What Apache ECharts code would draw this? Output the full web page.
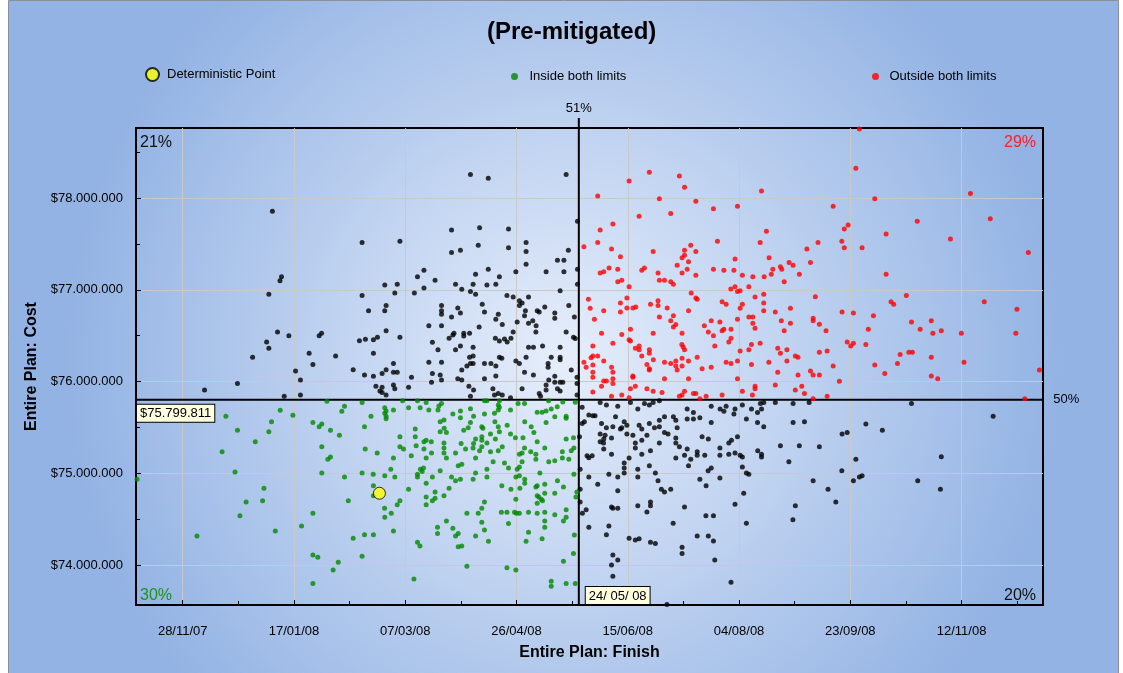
<!DOCTYPE html>
<html>
<head>
<meta charset="utf-8">
<title>(Pre-mitigated)</title>
<script src="https://cdn.jsdelivr.net/npm/echarts@6/dist/echarts.min.js"></script>
<style>
html, body { margin: 0; padding: 0; background: #fff; }
#chart { width: 1123px; height: 673px; }
</style>
</head>
<body>
<div id="chart"></div>
<script>
// x: days after 28/11/07, y: cost in thousands of $
const BASE_DATE = Date.UTC(2007, 10, 28)
const X_MIN = -21
const X_MAX = 386.6
const Y_MIN = 73564
const Y_MAX = 78763
const X_TICKS = [0, 50, 100, 150, 200, 250, 300, 350]
const X_MINOR_TICKS = [25, 75, 125, 175, 225, 275, 325, 375]
const Y_TICKS = [74000, 75000, 76000, 77000, 78000]
const Y_MINOR_TICKS = [74500, 75500, 76500, 77500, 78500]

// limits (24/05/08 and $75.799.811)
const FINISH_LIMIT = 178
const COST_LIMIT = 75799.811
const V_LINE_TOP = 78873
const H_LINE_END = 389.8

const CORNER_PCT = { topLeft: '21%', topRight: '29%', bottomLeft: '30%', bottomRight: '20%' }
const FINISH_PCT = '51%'
const COST_PCT = '50%'

const deterministicPoint = [[88.4, 74782]]

// outside one limit only (black)
const oneLimitPts = [
	[40.3,77856],[80.6,77514],[44.4,77143],[43.7,77099],
	[129.3,78255],[137.3,78215],[172.3,78255],[177.4,77747],[97.6,77529],[120.8,77652],[133.4,77677],[146.4,77663],
	[120.8,77405],[124.8,77431],[132.8,77485],[146.4,77459],[154.3,77514],[154.3,77416],[154.3,77278],[173.3,77431],
	[168.4,77322],[171.3,77322],[177.4,77224],[171.3,77197],[163.3,77197],[149.7,77197],[137.3,77224],[131.6,77169],
	[142.3,77143],[108.4,77213],[105.5,77143],[113.4,77104],[90.8,77052],[96.4,77060],[122.6,77060],[130.5,77060],
	[136.7,77052],[140.7,77060],[177.4,77060],
	[38.7,76951],[80.6,76936],[42.6,76540],[47.7,76500],[37.7,76431],[38.7,76362],[61.3,76500],[62.4,76526],
	[79.4,76445],[82.1,76461],[31.4,76264],[56.8,76308],[68.7,76279],[58.5,76184],[76.6,76129],[81.7,76072],
	[50.7,76115],[52.9,76017],[24.6,75977],[9.8,75908],[45.6,75839],[52.9,75854],
	[83.5,76772],[95.3,76965],[104.1,76965],[108.4,77020],[125.4,77006],[129.3,76980],[131.6,76951],[169.6,76990],
	[145.7,76936],[148.5,76922],[155.4,76922],[151.3,76881],[152.5,76856],[151.3,76827],[173.5,76827],[91.4,76827],
	[90.8,76772],[116.3,76827],[116.3,76772],[116.3,76733],[123.6,76802],[124.8,76747],[120.8,76704],[134.6,76842],
	[135.6,76758],[154.0,76772],[153.6,76718],[159.3,76772],[160.2,76758],[162.7,76813],[167.2,76747],[167.2,76690],
	[176.0,76704],[140.7,76679],[141.8,76733],[150.3,76649],[155.4,76635],[157.3,76663],[158.8,76609],[143.6,76620],
	[110.6,76609],[116.3,76609],[133.2,76595],[91.4,76554],[97.6,76482],[85.7,76456],[87.5,76482],[121.9,76526],
	[121.4,76508],[126.3,76526],[126.3,76497],[128.9,76526],[119.7,76472],[140.5,76472],[142.3,76442],[144.6,76464],
	[145.8,76431],[147.5,76472],[148.5,76540],[158.7,76540],[172.3,76540],[175.6,76482],[176.4,76470],[112.2,76428],
	[124.8,76388],[122.6,76347],[130.5,76373],[114.7,76347],[155.4,76373],[157.6,76373],[161.7,76388],[169.6,76373],
	[85.7,76308],[130.5,76279],[128.9,76264],[142.3,76264],[143.4,76254],[154.3,76264],[165.6,76264],[169.6,76264],
	[169.6,76238],[110.6,76210],[116.3,76210],[127.7,76170],[129.3,76195],[130.5,76195],[135.6,76195],[138.5,76195],
	[140.7,76170],[149.7,76224],[151.3,76195],[164.2,76195],[164.2,76155],[94.7,76195],[91.4,76129],[89.6,76086],
	[85.7,76057],[94.7,76101],[96.4,76101],[102.8,76046],[112.2,76086],[115.7,76072],[116.3,76017],[125.4,76126],
	[123.6,76031],[125.4,76017],[135.6,76031],[140.7,76061],[153.6,76101],[157.6,76072],[167.2,76057],[164.5,76017],
	[174.6,76126],[177.2,76046],[111.8,75992],[94.7,75962],[86.8,75948],[89.6,75937],[88.6,75897],[89.6,75879],
	[91.4,75854],[95.3,75922],[101.5,75937],[128.6,75948],[129.3,75839],[130.7,75908],[139.4,75922],[140.1,75854],
	[141.8,75868],[143.6,75854],[147.3,75824],[152.5,75922],[160.2,75868],[160.8,75839],[163.3,75908],[163.3,75962],
	[167.2,75992],[169.6,75992],[170.8,75992],[168.4,75922],[169.6,75897],[177.2,75977],[177.2,75854],
	[179.5,75719],[182.5,75636],[184.3,75628],[185.3,75628],[180.5,75562],[179.5,75541],[178.3,75399],
	[187.6,75770],[190.4,75744],[195.5,75730],[201.2,75770],[207.5,75759],[209.7,75744],[211.4,75770],[214.2,75790],
	[204.5,75701],[194.5,75617],[188.2,75541],[190.4,75497],[193.3,75508],[198.4,75562],[196.7,75483],[197.3,75497],
	[199.6,75523],[187.6,75428],[189.8,75414],[189.2,75374],[192.7,75385],[187.6,75344],[189.1,75330],[199.6,75428],
	[202.3,75414],[205.1,75523],[206.3,75483],[209.7,75541],[214.2,75578],[216.5,75617],[214.2,75508],[212.0,75497],
	[208.6,75414],[216.5,75443],[218.1,75428],[220.5,75617],[221.6,75578],[222.2,75497],[221.6,75385],[206.3,75360],
	[203.4,75330],[214.2,75330],[221.6,75330],[226.7,75701],[229.5,75661],[226.7,75592],[229.5,75592],[232.4,75606],
	[237.5,75730],[241.5,75701],[243.2,75676],[244.2,75730],[248.2,75701],[247.7,75646],[251.5,75744],[255.6,75701],
	[258.3,75661],[259.6,75759],[260.1,75701],[261.1,75770],[266.3,75770],[274.3,75759],[281.5,75770],[237.5,75552],
	[253.3,75592],[258.3,75552],[261.1,75508],[274.3,75552],[279.4,75562],[249.3,75399],[246.6,75360],[245.4,75330],
	[233.4,75399],[236.2,75374],
	[327.5,75759],[364.2,75621],[307.0,75537],[314.4,75469],[296.3,75428],[298.6,75443],
	[181.7,75192],[182.5,75170],[184.0,75192],[178.6,75044],[182.5,74960],[178.6,74826],[178.6,74687],[181.3,74603],
	[179.6,74564],[182.5,74411],
	[186.5,74880],[189.2,75265],[192.7,75207],[203.4,75276],[206.3,75207],[210.2,75246],[221.6,75167],[223.2,75290],
	[225.5,75196],[226.7,75265],[228.3,75153],[231.2,75235],[231.2,75196],[234.6,75196],[241.4,75276],[241.4,75196],
	[245.4,75207],[248.2,75221],[250.5,75196],[251.5,75178],[258.4,75246],[260.1,75207],[260.1,75178],[268.6,75301],
	[277.1,75301],[286.1,75290],[272.4,75126],[198.4,75112],[198.4,75058],[198.4,75003],[200.6,75167],[204.5,75044],
	[204.5,74960],[209.7,75083],[212.4,75003],[213.6,74919],[227.3,75083],[236.1,75028],[237.5,75058],[251.5,75069],
	[253.3,75003],[254.4,74989],[232.4,74935],[235.2,74865],[241.4,74949],[191.5,74989],[195.5,74960],[195.5,74810],
	[192.7,74633],[193.3,74619],[195.5,74619],[215.1,74826],[216.5,74796],[219.3,74826],[210.2,74687],[210.2,74647],
	[204.5,74647],[208.6,74578],[225.5,74633],[220.4,74455],[252.1,74782],[248.2,74662],[235.1,74538],[238.5,74538],
	[253.3,74455],[275.3,74647],[274.2,74494],[283.3,74919],[191.5,74426],[190.4,74331],[200.6,74292],[203.4,74273],
	[205.1,74287],[210.2,74248],[212.4,74233],[231.2,74317],[236.2,74317],[238.5,74262],[224.4,74193],[224.4,74124],
	[193.3,74110],[195.5,74055],[192.7,74000],[239.1,74055],[193.3,73877],[246.4,73812],[217.6,73570],
	[302.5,75153],[296.2,75028],[301.4,74919],[304.1,74960],[305.3,74974],[290.0,74826],[293.5,74687],[330.3,74919],
	[340.9,75181],[340.5,74826]
]

// inside both limits (green)
const insidePts = [
	[64.8,75785],[80.6,75770],[72.7,75730],[71.5,75676],[43.8,75687],[49.5,75632],[19.4,75621],[39.9,75562],
	[58.5,75552],[62.5,75537],[61.3,75508],[38.7,75453],[24.6,75469],[66.4,75469],[70.4,75414],[81.7,75508],
	[32.6,75344],
	[17.7,75235],[-20.5,74935],[23.5,75014],[36.5,74836],[28.5,74687],[35.9,74701],[25.7,74538],[6.4,74317],
	[41.6,74371],[62.5,75290],[66.4,75178],[65.2,75153],[82.0,75265],[62.5,75003],[72.7,74960],[80.6,75003],
	[74.4,74701],[58.5,74564],[53.4,74426],[81.7,74331],[76.6,74292],[58.5,74110],[60.7,74084],[80.6,74095],
	[69.9,74030],[67.6,73946],[58.5,73797],
	[84.6,75621],[90.8,75715],[91.4,75679],[90.8,75654],[91.4,75621],[91.4,75595],[94.7,75690],[98.8,75790],
	[101.5,75715],[105.5,75790],[106.7,75715],[109.4,75770],[110.6,75690],[114.7,75690],[115.1,75734],[116.3,75759],
	[121.4,75646],[124.8,75679],[124.8,75606],[129.3,75704],[130.7,75621],[129.3,75552],[135.6,75790],[136.7,75790],
	[141.8,75744],[142.3,75719],[141.8,75690],[140.1,75654],[135.6,75646],[147.3,75690],[150.7,75759],[153.6,75759],
	[142.3,75790],[164.4,75791],[170.8,75777],[168.3,75726],[165.6,75701],[163.3,75679],[161.5,75665],[159.3,75665],
	[167.2,75617],[172.3,75621],[172.3,75600],[176.4,75774],[117.4,75581],[115.7,75562],[117.5,75490],[115.7,75453],
	[118.5,75443],[126.3,75469],[128.3,75497],[134.4,75508],[134.9,75490],[140.3,75562],[141.8,75508],[142.3,75453],
	[145.8,75523],[153.7,75562],[156.6,75508],[157.8,75443],[163.3,75552],[147.3,75428],[138.3,75428],[134.4,75399],
	[131.6,75374],[140.5,75374],[149.5,75388],[152.9,75388],[159.3,75344],[172.3,75374],[175.6,75388],[97.6,75399],
	[104.5,75483],[104.5,75399],[109.4,75360],[108.4,75344],[111.7,75344],[117.4,75330],[125.1,75323],[134.4,75360],
	[136.7,75330],[130.7,75323],
	[87.4,75221],[97.6,75290],[99.2,75265],[94.7,75167],[102.7,75192],[104.9,75301],[108.4,75265],[111.8,75221],
	[109.4,75167],[117.4,75276],[117.4,75221],[118.5,75167],[122.6,75221],[127.1,75265],[130.5,75276],[131.6,75167],
	[133.4,75246],[134.4,75290],[138.3,75235],[141.8,75246],[143.6,75290],[151.3,75207],[152.5,75221],[153.6,75276],
	[156.4,75235],[158.7,75207],[158.7,75153],[162.7,75276],[164.5,75126],[167.2,75137],[170.6,75235],[170.6,75167],
	[173.5,75153],[174.6,75246],[175.8,75276],[85.6,74989],[90.8,74974],[93.5,75044],[95.3,74960],[106.8,75044],
	[107.6,75018],[105.5,74989],[105.5,74960],[108.2,75058],[112.2,74960],[115.7,75028],[120.8,74960],[122.6,74919],
	[123.8,75083],[125.4,75098],[124.8,74935],[130.5,74935],[131.6,75003],[136.7,75044],[136.7,74960],[139.5,75126],
	[144.6,75112],[146.4,75058],[149.7,74960],[150.3,75044],[151.3,75069],[152.5,75126],[153.7,74935],[151.3,74974],
	[160.5,75003],[168.4,74919],[85.7,74865],[85.7,74756],[101.5,74826],[109.4,74891],[113.4,74796],[109.4,74742],
	[109.4,74658],[113.4,74728],[112.2,74701],[117.4,74756],[119.7,74836],[143.4,74865],[147.5,74826],[151.5,74836],
	[153.7,74891],[158.7,74851],[159.3,74865],[162.7,74880],[171.1,74851],[162.7,74782],[167.2,74782],[159.3,74756],
	[160.0,74742],[161.1,74717],[161.7,74701],[159.3,74673],[149.7,74717],[175.8,74989],[177.1,74796],[176.7,74742],
	[90.7,74619],[90.8,74520],[93.7,74564],[96.4,74658],[97.6,74701],[85.7,74331],[94.7,74371],[105.5,74248],
	[106.6,74208],[103.9,73848],[118.5,74480],[114.5,74411],[114.5,74342],[121.4,74400],[123.8,74342],[122.6,74317],
	[123.8,74200],[125.4,74208],[127.7,74564],[131.6,74317],[132.8,74564],[134.4,74619],[135.6,74687],[134.4,74466],
	[135.6,74382],[137.4,74259],[127.7,73986],[143.2,74575],[145.7,74575],[149.1,74575],[150.0,74564],[151.3,74564],
	[155.4,74575],[159.3,74564],[162.7,74575],[167.2,74549],[172.3,74603],[172.3,74520],[171.1,74480],[162.7,74480],
	[162.7,74411],[146.4,74451],[155.4,74357],[154.3,74259],[161.5,74287],[176.0,74327],[175.6,74124],[171.1,74041],
	[145.7,73971],[149.7,73946],[165.6,73823],[165.6,73768],[172.3,73797],[176.4,73797]
]

// outside both limits (red)
const outsidePts = [
	[180.3,77470],[182.3,76897],[183.1,76799],[185.0,76679],[184.3,76388],[184.3,76279],[183.5,76260],[180.3,76210],
	[181.3,76155],[184.3,76180],[184.3,76101],[184.3,76046],[184.3,75886],
	[186.5,78023],[200.6,78186],[209.7,78281],[223.2,78241],[225.5,78117],[214.2,77993],[230.6,77965],[219.3,77830],
	[205.1,77801],[238.5,77884],[249.3,77910],[260.1,78077],[193.3,77717],[187.6,77652],[186.5,77514],[192.7,77445],
	[196.7,77361],[211.4,77416],[240.3,77529],[228.3,77485],[225.5,77431],[230.6,77416],[225.5,77376],[224.4,77350],
	[227.3,77306],[222.2,77267],[226.7,77224],[224.4,77183],[213.6,77183],[207.5,77238],[206.3,77213],[195.5,77224],
	[191.6,77238],[189.2,77197],[187.6,77183],[195.5,77088],[197.3,77104],[214.2,77104],[216.5,77104],[219.3,77088],
	[220.5,77060],[230.6,77158],[238.5,77224],[243.2,77213],[247.7,77213],[248.2,77336],[251.5,77158],[256.2,77143],
	[261.3,77143],[259.5,77514],[262.3,77638],[263.5,77350],[265.2,77224],[264.5,77169],[268.6,77252],[269.2,77224],
	[270.3,77088],[272.5,77296],[274.3,77267],[277.1,77169],[280.5,77445],[282.1,77296],[285.5,77514],
	[304.1,78753],[302.5,78325],[311.0,77993],[292.3,77910],[354.0,78048],[299.0,77706],[297.3,77663],[296.2,77529],
	[297.3,77459],[305.3,77459],[316.1,77608],[330.1,77747],[345.0,77554],[362.9,77775],[380.0,77405],[316.1,77169],
	[200.6,77034],[246.3,77009],[248.2,77034],[249.3,76980],[250.5,76990],[254.4,77034],[228.5,76965],[230.6,76911],
	[231.2,76897],[196.7,76856],[199.6,76911],[196.7,76758],[199.6,76802],[202.3,76802],[203.6,76813],[210.2,76842],
	[213.6,76881],[213.6,76827],[217.7,76802],[214.2,76704],[220.5,76718],[219.3,76663],[221.6,76620],[220.5,76595],
	[227.3,76772],[189.2,76772],[242.4,76870],[244.2,76842],[251.5,76842],[250.5,76799],[257.2,76922],[261.1,76951],
	[261.1,76856],[261.1,76772],[254.4,76704],[256.2,76704],[256.2,76635],[257.2,76580],[249.3,76679],[237.5,76663],
	[241.4,76649],[234.4,76609],[236.2,76540],[238.5,76500],[242.4,76554],[243.2,76569],[246.4,76569],[246.4,76472],
	[245.4,76431],[239.1,76388],[284.3,76925],[273.1,76799],[266.3,76758],[283.3,76690],[283.3,76663],[269.0,76663],
	[273.1,76635],[286.1,76624],[270.3,76554],[289.1,76554],[188.2,76526],[197.3,76511],[201.2,76569],[200.6,76456],
	[201.2,76442],[211.4,76526],[224.4,76526],[193.3,76417],[224.3,76402],[224.9,76377],[225.5,76347],[203.4,76362],
	[205.1,76388],[205.1,76347],[209.7,76347],[209.7,76308],[206.3,76279],[186.5,76279],[189.2,76224],[211.5,76238],
	[208.6,76184],[209.7,76140],[209.7,76126],[216.5,76210],[219.3,76195],[221.6,76224],[221.6,76170],[222.2,76126],
	[224.4,76254],[224.4,76170],[227.3,76224],[231.2,76264],[233.4,76140],[237.5,76155],[244.2,76210],[246.4,76195],
	[249.3,76224],[255.6,76184],[254.4,76347],[255.6,76402],[259.5,76417],[250.5,76333],[263.4,76210],[267.4,76362],
	[268.6,76308],[271.5,76347],[271.5,76224],[275.3,76279],[276.5,76264],[267.4,76101],[276.5,76072],[282.1,76115],
	[283.3,76072],[286.1,76072],[286.1,76319],[192.7,76155],[193.3,76101],[193.3,76031],[193.3,75977],[190.4,76006],
	[189.2,76006],[188.2,75948],[202.3,76061],[202.3,76046],[216.5,76031],[227.3,76031],[249.3,76031],[203.4,75948],
	[201.2,75922],[208.6,75922],[211.4,75894],[215.4,75879],[224.4,75854],[225.5,75894],[223.2,75839],[229.5,75868],
	[230.6,75868],[232.4,75813],[235.2,75839],[242.4,75854],[251.5,75894],[257.2,75948],[257.2,75922],[256.0,75854],
	[266.3,75962],[275.3,75908],[278.2,75948],[279.4,75868],[283.3,75813],[192.7,75839],[197.3,75854],[200.6,75824],
	[325.2,76936],[318.3,76870],[319.5,76842],[360.2,76870],[374.9,76788],[296.3,76758],[301.4,76747],[310.4,76718],
	[327.5,76649],[336.4,76663],[308.1,76569],[331.4,76569],[337.1,76526],[340.9,76554],[349.9,76526],[374.4,76526],
	[298.6,76431],[300.2,76388],[301.4,76417],[307.0,76402],[289.6,76333],[322.4,76293],[326.3,76319],[327.9,76319],
	[336.4,76264],[292.3,76170],[311.0,76180],[321.2,76195],[351.1,76210],[315.5,76086],[336.4,76061],[339.3,76031],
	[295.1,76003],[385.0,76126],[289.6,75839],[378.4,75813]
]

const FONT = 'Liberation Sans, Arial, Helvetica, sans-serif'

function fmtDate(d) {
	const dt = new Date(BASE_DATE + Math.round(d) * 86400000)
	const dd = String(dt.getUTCDate()).padStart(2, '0')
	const mm = String(dt.getUTCMonth() + 1).padStart(2, '0')
	const yy = String(dt.getUTCFullYear() % 100).padStart(2, '0')
	return dd + '/' + mm + '/' + yy
}

function fmtCost(k) {
	const v = String(Math.round(k * 1000))
	return '$' + v.replace(/\B(?=(\d{3})+(?!\d))/g, '.')
}

const boxLabel = {
	show: true,
	fontSize: 13,
	fontFamily: FONT,
	color: '#000',
	backgroundColor: '#ffffe1',
	borderColor: '#000',
	borderWidth: 1,
	padding: [2, 3, 1, 3],
	lineHeight: 14,
}

const chart = echarts.init(document.getElementById('chart'), null, { renderer: 'canvas' })

const option = {
	animation: false,
	backgroundColor: '#ffffff',
	textStyle: { fontFamily: FONT },
	title: {
		text: '(Pre-mitigated)',
		left: 482,
		top: 15,
		textStyle: { fontSize: 24, fontWeight: 'bold', color: '#000', fontFamily: FONT },
	},
	legend: [
		{
			data: ['Deterministic Point'],
			left: 140, top: 62,
			itemWidth: 19, itemHeight: 13, itemGap: 0,
			textStyle: { fontSize: 13, color: '#000' },
		},
		{
			data: ['Inside both limits'],
			left: 506, top: 65,
			itemWidth: 20, itemHeight: 7,
			textStyle: { fontSize: 13, color: '#000' },
		},
		{
			data: ['Outside both limits'],
			left: 867, top: 65,
			itemWidth: 18, itemHeight: 7,
			textStyle: { fontSize: 13, color: '#000' },
		},
	],
	graphic: [
		{
			type: 'rect', z: -100, silent: true,
			shape: { x: 8.5, y: 0.5, width: 1110, height: 690 },
			style: {
				fill: new echarts.graphic.RadialGradient(0.5, 0.52, 0.72, [
					{ offset: 0, color: '#e6eefb' },
					{ offset: 1, color: '#93b3e4' },
				]),
				stroke: '#8a8f99', lineWidth: 1,
			},
		},
		{ type: 'text', silent: true, left: 140, top: 135, style: { text: CORNER_PCT.topLeft, fontSize: 16, fill: '#111', font: '16px ' + FONT } },
		{ type: 'text', silent: true, right: 1123 - 1036, top: 135, style: { text: CORNER_PCT.topRight, fontSize: 16, fill: '#ff2020', font: '16px ' + FONT } },
		{ type: 'text', silent: true, left: 140, top: 588, style: { text: CORNER_PCT.bottomLeft, fontSize: 16, fill: '#1d931d', font: '16px ' + FONT } },
		{ type: 'text', silent: true, right: 1123 - 1036, top: 588, style: { text: CORNER_PCT.bottomRight, fontSize: 16, fill: '#111', font: '16px ' + FONT } },
	],
	grid: {
		left: 136, top: 128, width: 907, height: 477,
		show: true, borderColor: '#000', borderWidth: 2,
		backgroundColor: 'transparent',
		containLabel: false,
	},
	xAxis: [
		{
			type: 'value',
			min: X_MIN, max: X_MAX,
			name: 'Entire Plan: Finish',
			nameLocation: 'middle',
			nameGap: 40,
			nameTextStyle: { fontSize: 16, fontWeight: 'bold', color: '#000' },
			axisLine: { show: true, onZero: false, lineStyle: { color: '#000', width: 2 } },
			axisTick: { show: true, inside: true, length: 5, customValues: X_TICKS, lineStyle: { color: '#000' } },
			axisLabel: { customValues: X_TICKS, formatter: fmtDate, fontSize: 13, color: '#000', margin: 20 },
			splitLine: { show: true, lineStyle: { color: '#c9c9c9', width: 1 } },
		},
		{
			type: 'value', position: 'bottom',
			min: X_MIN, max: X_MAX,
			axisLine: { show: false, onZero: false },
			axisTick: { show: true, inside: true, length: 4, customValues: X_MINOR_TICKS, lineStyle: { color: '#000' } },
			axisLabel: { show: false },
			splitLine: { show: false },
		},
	],
	yAxis: [
		{
			type: 'value',
			min: Y_MIN, max: Y_MAX,
			name: 'Entire Plan: Cost',
			nameLocation: 'middle',
			nameGap: 93,
			nameTextStyle: { fontSize: 16, fontWeight: 'bold', color: '#000' },
			axisLine: { show: true, onZero: false, lineStyle: { color: '#000', width: 2 } },
			axisTick: { show: true, inside: true, length: 5, customValues: Y_TICKS, lineStyle: { color: '#000' } },
			axisLabel: { customValues: Y_TICKS, formatter: fmtCost, fontSize: 13, color: '#000', margin: 13 },
			splitLine: { show: true, lineStyle: { color: '#c9c9c9', width: 1 } },
		},
		{
			type: 'value', position: 'left',
			min: Y_MIN, max: Y_MAX,
			axisLine: { show: false, onZero: false },
			axisTick: { show: true, inside: true, length: 4, customValues: Y_MINOR_TICKS, lineStyle: { color: '#000' } },
			axisLabel: { show: false },
			splitLine: { show: false },
		},
	],
	series: [
		{
			name: 'Finish limit',
			type: 'line',
			clip: false, silent: true, z: 1,
			symbol: 'circle', symbolSize: 0.1, showSymbol: true,
			lineStyle: { color: '#000', width: 2 },
			itemStyle: { color: '#000' },
			data: [
				{ value: [FINISH_LIMIT, Y_MIN], label: Object.assign({}, boxLabel, { position: [7, -18], formatter: () => fmtDate(FINISH_LIMIT).replace(/\//g, '/ ') }) },
				{ value: [FINISH_LIMIT, V_LINE_TOP], label: { show: true, position: 'top', distance: 3, fontSize: 13, color: '#000', formatter: FINISH_PCT } },
			],
		},
		{
			name: 'Cost limit',
			type: 'line',
			clip: false, silent: true, z: 1,
			symbol: 'circle', symbolSize: 0.1, showSymbol: true,
			lineStyle: { color: '#000', width: 2 },
			itemStyle: { color: '#000' },
			data: [
				{ value: [X_MIN, COST_LIMIT], label: Object.assign({}, boxLabel, { position: [1, 5], formatter: () => fmtCost(COST_LIMIT) }) },
				{ value: [H_LINE_END, COST_LIMIT], label: { show: true, position: 'right', distance: 3, fontSize: 13, color: '#000', formatter: COST_PCT } },
			],
		},
		{
			name: 'Outside one limit',
			type: 'scatter', z: 2, silent: true,
			symbolSize: 5,
			itemStyle: { color: '#000' },
			data: oneLimitPts,
		},
		{
			name: 'Inside both limits',
			type: 'scatter', z: 2, silent: true,
			symbolSize: 5,
			itemStyle: { color: '#008a00' },
			data: insidePts,
		},
		{
			name: 'Outside both limits',
			type: 'scatter', z: 2, silent: true,
			symbolSize: 5,
			itemStyle: { color: '#ff0000' },
			data: outsidePts,
		},
		{
			name: 'Deterministic Point',
			type: 'scatter', z: 3, silent: true,
			symbolSize: 12,
			itemStyle: { color: '#ffff00', borderColor: '#000', borderWidth: 1 },
			data: deterministicPoint,
		},
	],
}

chart.setOption(option)
</script>
</body>
</html>
